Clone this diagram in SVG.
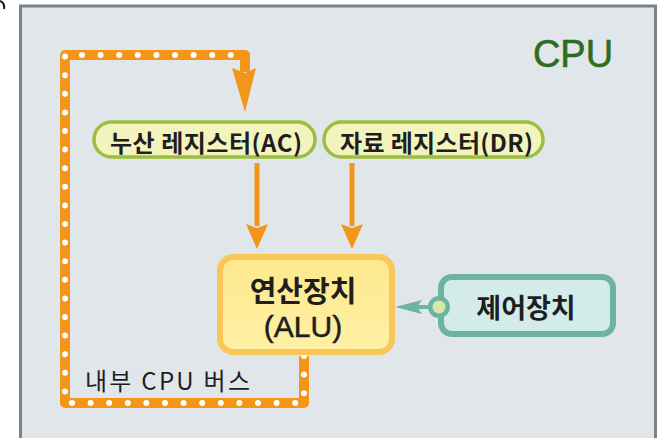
<svg xmlns="http://www.w3.org/2000/svg" width="660" height="438" viewBox="0 0 660 438">
<defs>
<style>
.kr{font-family:"Noto Sans CJK KR","Noto Sans",sans-serif;fill:#1e1e1e;}
.b{font-weight:bold;}
.pill{fill:#f3f4bd;stroke:#9dbd3c;stroke-width:3.5;}
.ora{fill:#f39519;}
.oline{stroke:#f39519;stroke-width:5;fill:none;}
</style>
<linearGradient id="gAlu" x1="0" y1="0" x2="0" y2="1">
<stop offset="0" stop-color="#fde88c"/>
<stop offset="1" stop-color="#fff0a6"/>
</linearGradient>
</defs>
<rect x="0" y="0" width="660" height="438" fill="#ffffff"/>
<path d="M0 1 Q5 3 4 9" stroke="#111" stroke-width="2" fill="none"/>
<g id="cpu-frame">
<rect x="20.5" y="6" width="635" height="440" fill="#e1e6ea" stroke="#7c8287" stroke-width="3"/>
<text x="573" y="67" text-anchor="middle" font-family="Liberation Sans,Arial,sans-serif" font-size="38" fill="#2e6d1f" stroke="#2e6d1f" stroke-width="0.6">CPU</text>
</g>
<g id="connectors">
<g id="bus">
<path d="M304 356 L304 403 L65 403 L65 55 L245 55 L245 72" fill="none" stroke="#f39519" stroke-width="10" stroke-linejoin="round"/>
<path d="M304 356 L304 403 L65 403 L65 55 L245 55" fill="none" stroke="#ffffff" stroke-width="6" stroke-linecap="round" stroke-dasharray="0 18.6"/>
<path d="M232 68 L245 73 L256 68 L245 112 Z" class="ora"/>
<text x="85" y="390" class="kr" font-size="24" textLength="165" lengthAdjust="spacing">내부 CPU 버스</text>
</g>
<g id="ac-to-alu">
<line x1="257" y1="163" x2="257" y2="226" class="oline"/>
<path d="M246 224 L257 228 L268 224 L257 249 Z" class="ora"/>
</g>
<g id="dr-to-alu">
<line x1="352" y1="163" x2="352" y2="226" class="oline"/>
<path d="M341 224 L352 228 L363 224 L352 249 Z" class="ora"/>
</g>
<g id="ctrl-to-alu">
<path d="M395 307 L422 300 L417 307 L422 314 Z" fill="#6db2a3"/>
<line x1="415" y1="307" x2="432" y2="307" stroke="#6db2a3" stroke-width="4"/>
</g>
</g>
<g id="node-ac">
<rect x="94" y="122" width="221" height="35" rx="17.5" class="pill"/>
<text x="110" y="152" class="kr b" font-size="24" textLength="192" lengthAdjust="spacing">누산 레지스터(AC)</text>
</g>
<g id="node-dr">
<rect x="324" y="122" width="219" height="35" rx="17.5" class="pill"/>
<text x="340" y="152" class="kr b" font-size="24" textLength="193" lengthAdjust="spacing">자료 레지스터(DR)</text>
</g>
<g id="node-alu">
<rect x="220" y="257" width="172" height="95" rx="13" fill="url(#gAlu)" stroke="#f8c758" stroke-width="6"/>
<text x="303" y="302" text-anchor="middle" class="kr b" font-size="29">연산장치</text>
<text x="303" y="337" text-anchor="middle" font-family="Liberation Sans,Arial,sans-serif" font-size="30" fill="#1e1e1e" stroke="#1e1e1e" stroke-width="0.5">(ALU)</text>
</g>
<g id="node-ctrl">
<rect x="441" y="277" width="172" height="57" rx="11" fill="#d4ece9" stroke="#6db2a3" stroke-width="6"/>
<circle cx="439" cy="307" r="11" fill="#6db2a3"/>
<circle cx="439" cy="307" r="6.5" fill="#d8e8a8"/>
<text x="526" y="318" text-anchor="middle" class="kr b" font-size="27">제어장치</text>
</g>
</svg>
